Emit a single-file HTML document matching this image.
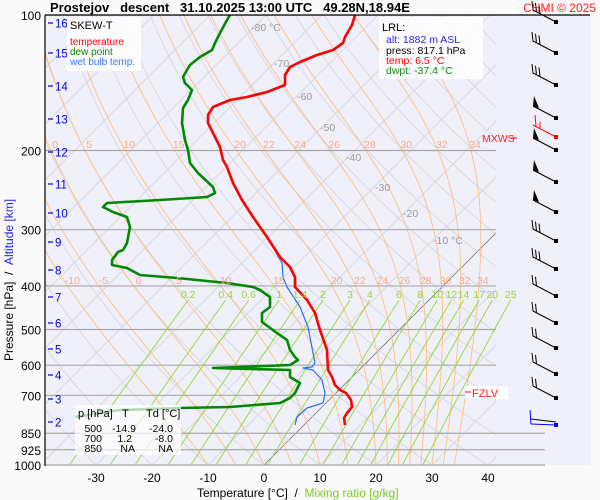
<!DOCTYPE html>
<html><head><meta charset="utf-8"><style>
html,body{margin:0;padding:0;background:#fafafa;}
svg{display:block;font-family:"Liberation Sans",sans-serif;}
</style></head><body>
<svg id="s" width="600" height="500" xmlns="http://www.w3.org/2000/svg">
<rect x="0" y="0" width="600" height="500" fill="#fafafa"/>
<rect x="45" y="15" width="546" height="450" fill="#f0f0fb"/>
<defs>
<clipPath id="c1"><rect x="45" y="15" width="451" height="450"/></clipPath>
<clipPath id="c2"><rect x="45" y="15" width="500" height="450"/></clipPath>
</defs>
<g id="grid" clip-path="url(#c1)"></g>
<g id="mix" clip-path="url(#c2)"></g>
<g id="iso"></g>
<g id="curves" clip-path="url(#c2)"></g>
<g id="txt"></g>
</svg>
<script>
var NS="http://www.w3.org/2000/svg";
function yP(p){return 15+450*Math.log10(p/100);}
function xT(T,p){return 264+5.6*T+(465-yP(p));}
function el(g,tag,a,t){var e=document.createElementNS(NS,tag);for(var k in a)e.setAttribute(k,a[k]);if(t!==undefined)e.textContent=t;document.getElementById(g).appendChild(e);return e;}
function poly(g,pts,st,w,extra){var d=pts.map(function(q){return q[0].toFixed(1)+","+q[1].toFixed(1)}).join(" ");var a={points:d,fill:"none",stroke:st,"stroke-width":w,"stroke-linejoin":"round"};for(var k in extra)a[k]=extra[k];return el(g,"polyline",a);}
for(var T=-160;T<=50;T+=10){var pts=[[xT(T,1000),yP(1000)],[xT(T,100),yP(100)]];poly("grid",pts,T==0?"#777":"#d4d4d8",0.8);}
for(var th=-40;th<=250;th+=10){var pts=[];for(var p=1000;p>=100;p-=10){var Tk=(th+273.15)*Math.pow(p/1000,0.286)-273.15;pts.push([xT(Tk,p),yP(p)]);}poly("grid",pts,"#d4d4d8",0.8);}
function es(T){return 6.112*Math.exp(17.67*T/(T+243.5));}
function moist(tw){var pts=[];var T=tw+273.15,p=1000,Rd=287,cp=1004,L=2.5e6,eps=0.622;pts.push([xT(tw,1000),yP(1000)]);
while(p>100){var e=es(T-273.15),rs=eps*e/(p-e);var dTdp=(Rd*T+L*rs)/(cp+L*L*rs*eps/(Rd*T*T))/p;var dp=-2;T+=dTdp*dp;p+=dp;pts.push([xT(T-273.15,p),yP(p)]);}return pts;}
var mv=[-10,-5,0,5,10,15,20,22,24,26,28,30,32,34];
mv.forEach(function(v){poly("grid",moist(v),"#ffc080",0.9);});
[100,200,300,400,500,600,700].forEach(function(p){el("grid","line",{x1:45,x2:496,y1:yP(p),y2:yP(p),stroke:"#a8a8a8","stroke-width":1.2});});
[850,925,1000].forEach(function(p){el("iso","line",{x1:45,x2:545,y1:yP(p),y2:yP(p),stroke:"#a8a8a8","stroke-width":1.2});});
var mr=[0.2,0.4,0.6,1,1.4,2,3,4,6,8,10,12,14,17,20,25];
function tdw(w,p){var e=w*p/(622+w);var l=Math.log(e/6.112);return 243.5*l/(17.67-l);}
mr.forEach(function(w){var pts=[];for(var p=430;p<=1000;p+=10)pts.push([xT(tdw(w,p),p),yP(p)]);poly("mix",pts,"#99d633",0.9);});
mr.forEach(function(w){var x=xT(tdw(w,430),430);el("txt","text",{x:x,y:298,"font-size":10.5,fill:"#99d633","text-anchor":"middle"},String(w));});
function lab(p,yy){mv.forEach(function(v){var pts=moist(v);var best=null;pts.forEach(function(q){if(Math.abs(q[1]-yP(p))<1.5&&!best)best=q;});if(best&&best[0]>46&&best[0]<496)el("txt","text",{x:best[0]+4,y:yy,"font-size":10.5,fill:"#f9a98a","text-anchor":"middle"},String(v));});}
lab(200,148);lab(400,284);
[["-80 °C",251,31],["-70",274,67],["-60",297,100],["-50",320,131],["-40",346,161],["-30",375,191],["-20",403,217],["-10 °C",433,244]].forEach(function(a){el("txt","text",{x:a[1],y:a[2],"font-size":10.5,fill:"#9a9a9a"},a[0]);});
var red=[[355,15],[352,25],[345,37],[343,43],[333,50],[317,55],[300,62],[290,67],[285,75],[285,85],[267,92],[247,97],[230,100],[213,107],[208,115],[208,123],[213,133],[220,147],[223,160],[227,167],[233,183],[242,200],[253,217],[267,237],[280,257],[290,267],[295,277],[295,287],[307,300],[315,313],[320,330],[327,350],[328,370],[332,377],[335,385],[340,390],[346,393],[351,400],[352,407],[347,413],[344,418],[345,425]];
var grn=[[230,15],[227,20],[220,33],[215,43],[212,50],[200,57],[190,65],[187,70],[183,77],[185,83],[192,90],[188,100],[183,108],[182,123],[185,140],[188,150],[190,163],[198,173],[213,187],[215,193],[207,197],[160,200],[107,203],[103,207],[113,212],[127,217],[130,227],[127,243],[123,250],[118,252],[112,260],[112,265],[127,268],[140,275],[177,278],[227,283],[253,287],[260,290],[270,297],[270,307],[262,313],[262,322],[277,333],[287,340],[290,350],[295,357],[298,360],[290,365],[213,368],[290,370],[290,377],[300,383],[295,393],[290,398],[280,403],[230,407],[180,408],[120,410],[75,417]];
var blu=[[242,200],[260,227],[273,247],[282,263],[283,277],[287,287],[300,307],[308,327],[313,353],[315,363],[312,367],[303,368],[313,370],[322,380],[325,393],[323,403],[307,408],[297,417],[295,425]];
poly("curves",blu,"#2a6ff0",1.2);
poly("curves",grn,"#008800",2.6);
poly("curves",red,"#ff0000",2.6);
var wy=[22,53,85,118,137,150,182,212,241,269,296,323,348,374,398];
wy.forEach(function(y,i){var c=i==4?"#ff0000":"#000";var x0=556,x1=533,y1=y-12;el("txt","line",{x1:x0,y1:y,x2:x1,y2:y1,stroke:c,"stroke-width":1});el("txt","rect",{x:x0-2,y:y-2,width:4,height:4,fill:c});
 if(i>=3&&i<=7&&i!=4){el("txt","polygon",{points:x1+","+y1+" "+(x1+1)+","+(y1-10)+" "+(x1+6)+","+(y1+2),fill:c});}
 else if(i==4){el("txt","line",{x1:x1+3,y1:y1+1,x2:x1+2,y2:y1-10,stroke:c});el("txt","line",{x1:x1+7,y1:y1+3,x2:x1+7,y2:y1-3,stroke:c});}
 else{var n=(i<3||i==8||i==9)?3:2;for(var k=0;k<n;k++){var bx=x1+k*3.5,by=y1+k*1.8;el("txt","line",{x1:bx,y1:by,x2:bx-1,y2:by-9,stroke:c,"stroke-width":1});}}
});
el("txt","line",{x1:530,y1:410,x2:531,y2:424,stroke:"#0000ff"});el("txt","line",{x1:531,y1:424,x2:556,y2:425,stroke:"#0000ff"});el("txt","line",{x1:531,y1:419,x2:556,y2:422,stroke:"#000"});el("txt","rect",{x:554,y:423,width:4,height:4,fill:"#0000ff"});
el("txt","line",{x1:45,y1:15,x2:590,y2:15,stroke:"#000","stroke-width":1.2});
el("txt","line",{x1:45,y1:15,x2:45,y2:466,stroke:"#000","stroke-width":1.2});
[100,200,300,400,500,600,700,850,925,1000].forEach(function(p){el("txt","text",{x:41,y:yP(p)+5,"font-size":12,"text-anchor":"end",fill:"#000"},String(p));});
var km=[[16,23],[15,53],[14,86],[13,119],[12,152],[11,184],[10,213],[9,242],[8,270],[7,297],[6,323],[5,349],[4,375],[3,399],[2,422]];
km.forEach(function(a){el("txt","line",{x1:48,x2:53,y1:a[1],y2:a[1],stroke:"#0000dd","stroke-width":1.2});el("txt","text",{x:55,y:a[1]+4.5,"font-size":11.5,fill:"#0000dd"},String(a[0]));});
[-30,-20,-10,0,10,20,30,40].forEach(function(t){el("txt","text",{x:264+5.6*t,y:482,"font-size":12,"text-anchor":"middle",fill:"#000"},String(t));});
</script>
<svg style="position:absolute;left:0;top:0" width="600" height="500" xmlns="http://www.w3.org/2000/svg" font-family="Liberation Sans, sans-serif">
<text x="50" y="12" font-size="13" font-weight="bold">Prostejov&#160;&#160;&#160;descent&#160;&#160;&#160;31.10.2025 13:00 UTC&#160;&#160;&#160;49.28N,18.94E</text>
<text x="596" y="12" font-size="12" fill="#ff2020" text-anchor="end">CHMI © 2025</text>
<rect x="67" y="17" width="74" height="54" fill="#fff" fill-opacity="0.85"/>
<text x="70" y="29" font-size="11">SKEW-T</text>
<text x="70" y="45" font-size="10" fill="#ff0000">temperature</text>
<text x="70" y="55" font-size="10" fill="#008800">dew point</text>
<text x="70" y="65" font-size="10" fill="#3377ff">wet bulb temp.</text>
<rect x="379" y="17" width="104" height="62" fill="#fff" fill-opacity="0.85"/>
<text x="382" y="31" font-size="11">LRL:</text>
<text x="386" y="43" font-size="10.5" fill="#2222ee">alt: 1882 m ASL</text>
<text x="386" y="54" font-size="10.5">press: 817.1 hPa</text>
<text x="386" y="64" font-size="10.5" fill="#ff0000">temp: 6.5 °C</text>
<text x="386" y="74" font-size="10.5" fill="#118811">dwpt: -37.4 °C</text>
<line x1="511" y1="138" x2="517" y2="138" stroke="#ff0000"/>
<text x="482" y="142" font-size="10.5" fill="#ff2020">MXWS</text>
<rect x="465" y="386" width="43" height="13" fill="#fff"/>
<line x1="465" y1="392" x2="471" y2="392" stroke="#ff0000"/>
<text x="472" y="397" font-size="11" fill="#ff2020">FZLV</text>
<rect x="75" y="405" width="106" height="50" fill="#fff" fill-opacity="0.7"/>
<text x="78" y="417" font-size="11">p [hPa]</text>
<text x="122" y="417" font-size="11">T</text>
<text x="146" y="417" font-size="11">Td [°C]</text>
<g font-size="10.5" text-anchor="end">
<text x="102" y="432">500</text><text x="136" y="432">-14.9</text><text x="173" y="432">-24.0</text>
<text x="102" y="442">700</text><text x="132" y="442">1.2</text><text x="173" y="442">-8.0</text>
<text x="102" y="452">850</text><text x="135" y="452">NA</text><text x="173" y="452">NA</text>
</g>
<text x="197" y="497" font-size="12">Temperature [°C]&#160;&#160;/&#160;&#160;<tspan fill="#77cc22">Mixing ratio [g/kg]</tspan></text>
<text transform="translate(13,361) rotate(-90)" font-size="12">Pressure [hPa]&#160;&#160;/&#160;&#160;<tspan fill="#2222ee">Altitude [km]</tspan></text>
</svg>
</body></html>
